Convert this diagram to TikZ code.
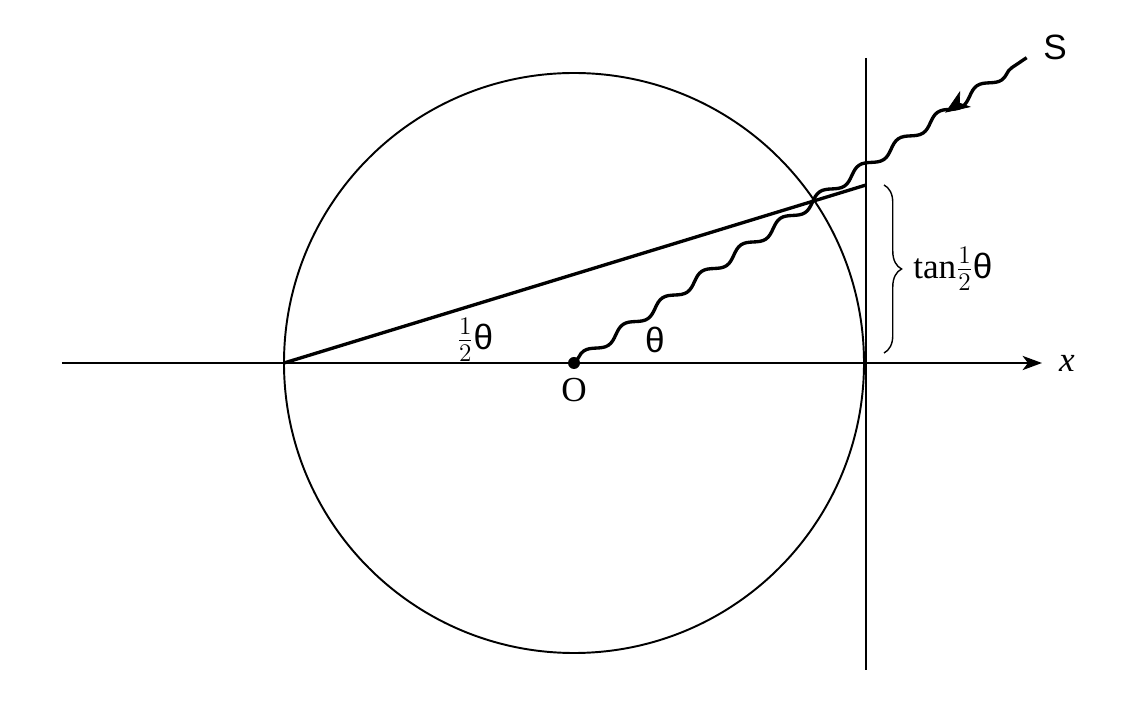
\documentclass[tikz,border=0pt]{standalone}
\usepackage{fontspec}
\setmainfont{Liberation Serif}
\newfontfamily\sansgr{Liberation Sans}
\usetikzlibrary{decorations.pathmorphing,decorations.pathreplacing,decorations.markings,arrows.meta}
\newcommand{\thsym}{{\sansgr θ}}

\tikzset{
  wave/.style={line width=1.9pt, decorate, decoration={snake, amplitude=2.6pt, segment length=27pt}},
  lbl/.style={inner sep=0pt}
}

\begin{document}
\begin{tikzpicture}[x=0.02cm,y=0.02cm,font=\fontsize{20}{24}\selectfont]
\useasboundingbox (-574,-339) rectangle (564,363);

\coordinate (O) at (0,0);
\coordinate (A) at (-290,0);
\coordinate (P) at (292,178);
\coordinate (Vt) at (292,305);
\coordinate (Vb) at (292,-307);
\coordinate (Xl) at (-512,0);
\coordinate (Xr) at (468,0);
\coordinate (S) at (34:546);
\coordinate (Bt) at (310,178);
\coordinate (Bb) at (310,10);

\draw[line width=1.1pt] (O) circle (290);
\draw[line width=1.2pt] (Vt) -- (Vb);
\draw[line width=1.6pt, -{Stealth[length=11pt,width=8pt,inset=3pt]}] (Xl) -- (Xr);
\draw[line width=1.9pt] (A) -- (P);
\draw[wave] (O) -- (S);
\path[postaction={decorate}, decoration={markings, mark=at position 0.82 with {\arrowreversed{Stealth[length=14pt,width=11pt,inset=4pt]}}}] (O) -- (S);
\draw[line width=0.8pt, decorate, decoration={brace, amplitude=10pt}] (Bt) -- (Bb);
\fill (O) circle (6);

\node[lbl] (o) at (0,-27) {O};
\node[lbl] (xlbl) at (493,0) {\textit{x}};
\node[lbl] (slbl) at (481,316) {\sansgr S};
\node[lbl] (half) at (-99,23) {$\frac{1}{2}$\thsym};
\node[lbl] (th) at (81,23) {\thsym};
\node[lbl, anchor=west] (tanl) at (339,94) {tan$\frac{1}{2}$\thsym};

\end{tikzpicture}
\end{document}
